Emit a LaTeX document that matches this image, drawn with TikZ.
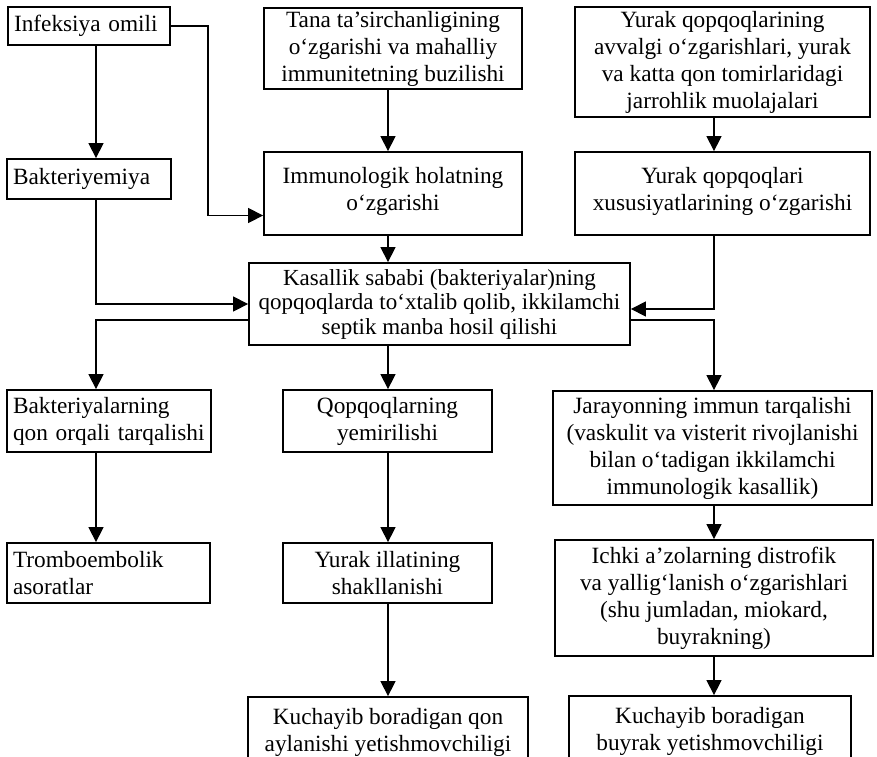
\documentclass[tikz,border=0pt]{standalone}
\usepackage{fontspec}
\setmainfont{Liberation Serif}
\usetikzlibrary{arrows.meta}
\begin{document}
\begin{tikzpicture}[x=1pt,y=-1pt,
  box/.style={draw, line width=1.8pt, inner sep=0pt, align=center,
              font=\fontsize{23.3}{27}\selectfont},
  lbox/.style={box, align=left},
  link/.style={line width=1.3pt, -{Triangle[length=15pt,width=15pt]}}]
\clip (0,0) rectangle (877,756);
\fill[white] (0,0) rectangle (877,756);

% column trunks
\coordinate (xL) at (96,0);
\coordinate (xM) at (388,0);
\coordinate (xR) at (714,0);
\coordinate (xJ) at (208,0);

% top row
\node[lbox, text width=150pt, minimum width=162pt, minimum height=38pt] (inf) at (89,26) {Infeksiya omili};
\node[box, minimum width=258pt, minimum height=81pt] (tana) at (393,48.5)
  {Tana ta’sirchanligining\\o‘zgarishi va mahalliy\\immunitetning buzilishi};
\node[box, minimum width=295pt, minimum height=110pt] (yur) at (722.5,62)
  {Yurak qopqoqlarining\\avvalgi o‘zgarishlari, yurak\\va katta qon tomirlaridagi\\jarrohlik muolajalari};

% second row (text sits a little above the middle)
\node[lbox, text width=152pt, minimum width=164pt, minimum height=40pt] (bak) at (89,179) {Bakteriyemiya};
\node[box, minimum width=258pt, minimum height=83pt] (imm) at (393,193.5)
  {Immunologik holatning\\o‘zgarishi\\[-18pt]~};
\node[box, minimum width=295pt, minimum height=83pt] (yxs) at (722.5,193.5)
  {Yurak qopqoqlari\\xususiyatlarining o‘zgarishi\\[-18pt]~};

% central box, set a little tighter
\node[box, font=\fontsize{23}{24.5}\selectfont, minimum width=381pt, minimum height=82pt] (kas) at (439.5,304)
  {Kasallik sababi (bakteriyalar)ning\\qopqoqlarda to‘xtalib qolib, ikkilamchi\\septik manba hosil qilishi};

% third row
\node[lbox, text width=192pt, minimum width=204pt, minimum height=62pt] (bq) at (109,421)
  {Bakteriyalarning\\qon orqali tarqalishi};
\node[box, minimum width=209pt, minimum height=62pt] (qy) at (387.5,421)
  {Qopqoqlarning\\yemirilishi};
\node[box, minimum width=319pt, minimum height=114pt] (jar) at (712.5,448)
  {Jarayonning immun tarqalishi\\(vaskulit va visterit rivojlanishi\\bilan o‘tadigan ikkilamchi\\immunologik kasallik)};

% fourth row
\node[lbox, text width=191pt, minimum width=203pt, minimum height=60pt] (tr) at (108.5,573)
  {Tromboembolik\\asoratlar};
\node[box, minimum width=209pt, minimum height=60pt] (yi) at (387.5,573)
  {Yurak illatining\\shakllanishi};
\node[box, minimum width=318pt, minimum height=116pt] (ich) at (714,598)
  {Ichki a’zolarning distrofik\\va yallig‘lanish o‘zgarishlari\\(shu jumladan, miokard,\\buyrakning)};

% bottom row
\node[box, minimum width=280pt, minimum height=70pt] (kq) at (388,732)
  {Kuchayib boradigan qon\\aylanishi yetishmovchiligi};
\node[box, minimum width=282pt, minimum height=70pt] (kb) at (710,731)
  {Kuchayib boradigan\\buyrak yetishmovchiligi};

% connectors
\coordinate (immIn) at ([yshift=-22pt]imm.west);
\draw[link] (inf.south -| xL) -- (bak.north -| xL);
\draw[link] (inf.east) -| (immIn -| xJ) -- (immIn);
\draw[link] (tana.south -| xM) -- (imm.north -| xM);
\draw[link] (yur.south -| xR) -- (yxs.north -| xR);
\draw[link] (imm.south -| xM) -- (kas.north -| xM);
\draw[link] (bak.south -| xL) |- (kas.west);
\draw[link] (yxs.south -| xR) |- ([yshift=-5pt]kas.east);
\draw[link] ([yshift=-16pt]kas.west) -| (bq.north -| xL);
\draw[link] (kas.south -| xM) -- (qy.north -| xM);
\draw[link] ([yshift=-16pt]kas.east) -| (jar.north -| xR);
\draw[link] (bq.south -| xL) -- (tr.north -| xL);
\draw[link] (qy.south -| xM) -- (yi.north -| xM);
\draw[link] (jar.south -| xR) -- (ich.north -| xR);
\draw[link] (yi.south -| xM) -- (kq.north -| xM);
\draw[link] (ich.south -| xR) -- (kb.north -| xR);
\end{tikzpicture}
\end{document}
